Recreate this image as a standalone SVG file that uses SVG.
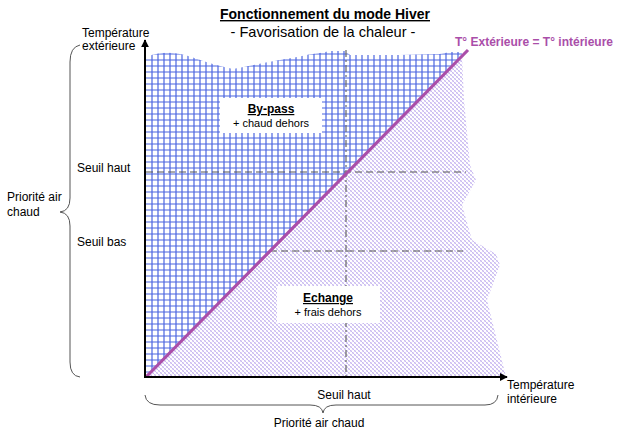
<svg xmlns="http://www.w3.org/2000/svg" width="620" height="434" viewBox="0 0 620 434">
<style>
text{font-family:"Liberation Sans",Arial,sans-serif;fill:#000;}
.lbl{font-size:12px;}
.sm{font-size:11px;}
.b{font-weight:bold;}
.u{text-decoration:underline;}
.dash{stroke:#555;stroke-width:1;fill:none;stroke-dasharray:7,4;}
.dashdot{stroke:#666;stroke-width:1.2;fill:none;stroke-dasharray:7,3,2,3;}
.brace{stroke:#555;stroke-width:1;fill:none;}
.axis{stroke:#000;stroke-width:2;fill:none;}
.gridln{stroke:#4a64e0;stroke-width:1.2;fill:none;}
</style>
<defs>
<clipPath id="gridclip">
<path d="M146,377 L146,57 Q160,52 172,53 Q185,54 200,60 Q218,66 233,69 Q250,66 263,63 Q280,60 297,57 Q310,54 320,53 L330,51 L345,51 L350,55 L400,55 L440,54 L450,52 L462,52 L462,56 Z"/>
</clipPath>
<pattern id="hatch" patternUnits="userSpaceOnUse" x="145" y="377" width="4" height="4">
<rect width="4" height="4" fill="#fff"/>
<path d="M0,0L4,4M-1,3L1,5M3,-1L5,1" stroke="#bcaaee" stroke-width="0.8"/>
<path d="M0,4L4,0M-1,1L1,-1M3,5L5,3" stroke="#d4c8f2" stroke-width="0.7"/>
</pattern>
<marker id="arr" viewBox="0 0 10 10" refX="9" refY="5" markerWidth="4" markerHeight="4" orient="auto" markerUnits="strokeWidth">
<path d="M0,0L10,5L0,10Z" fill="#000"/>
</marker>
</defs>

<g id="regions">
<g id="grid-region" clip-path="url(#gridclip)">
<rect x="140" y="40" width="330" height="340" fill="#fff"/>
<path class="gridln" d="M152,45v332m6,-332v332m6,-332v332m6,-332v332m6,-332v332m6,-332v332m6,-332v332m6,-332v332m6,-332v332m6,-332v332m6,-332v332m6,-332v332m6,-332v332m6,-332v332m6,-332v332m6,-332v332m6,-332v332m6,-332v332m6,-332v332m6,-332v332m6,-332v332m6,-332v332m6,-332v332m6,-332v332m6,-332v332m6,-332v332m6,-332v332m6,-332v332m6,-332v332m6,-332v332m6,-332v332m6,-332v332m6,-332v332m6,-332v332m6,-332v332m6,-332v332m6,-332v332m6,-332v332m6,-332v332m6,-332v332m6,-332v332m6,-332v332m6,-332v332m6,-332v332m6,-332v332m6,-332v332m6,-332v332m6,-332v332m6,-332v332m6,-332v332m6,-332v332m6,-332v332m6,-332v332"/>
<path class="gridln" d="M146,372h318m-318,-6h318m-318,-6h318m-318,-6h318m-318,-6h318m-318,-6h318m-318,-6h318m-318,-6h318m-318,-6h318m-318,-6h318m-318,-6h318m-318,-6h318m-318,-6h318m-318,-6h318m-318,-6h318m-318,-6h318m-318,-6h318m-318,-6h318m-318,-6h318m-318,-6h318m-318,-6h318m-318,-6h318m-318,-6h318m-318,-6h318m-318,-6h318m-318,-6h318m-318,-6h318m-318,-6h318m-318,-6h318m-318,-6h318m-318,-6h318m-318,-6h318m-318,-6h318m-318,-6h318m-318,-6h318m-318,-6h318m-318,-6h318m-318,-6h318m-318,-6h318m-318,-6h318m-318,-6h318m-318,-6h318m-318,-6h318m-318,-6h318m-318,-6h318m-318,-6h318m-318,-6h318m-318,-6h318m-318,-6h318m-318,-6h318m-318,-6h318m-318,-6h318m-318,-6h318m-318,-6h318m-318,-6h318"/>
</g>
<path id="hatch-region" fill="url(#hatch)" d="M146,377 L462,56 L464,100 L470,165 L476,180 L462,205 L472,240 L496,254 L500,265 L487,300 L506,377 Z"/>
</g>

<g id="connectors">
<line class="dash" x1="146" y1="172" x2="466" y2="172"/>
<line class="dash" x1="270" y1="251" x2="463" y2="251"/>
<line class="dashdot" x1="346" y1="50" x2="346" y2="377"/>
<line x1="146" y1="377" x2="468" y2="50" stroke="#aa4ea9" stroke-width="3.2"/>
<line class="axis" x1="145" y1="378" x2="145" y2="40" marker-end="url(#arr)"/>
<line class="axis" x1="144" y1="377" x2="507" y2="377" marker-end="url(#arr)"/>
<path class="brace" d="M80,45 Q70,47 70,62 L70,198 Q70,211 60,212 Q70,213 70,226 L70,362 Q70,376 80,377"/>
<path class="brace" d="M145,395 Q146,405 160,405 L310,405 Q322,405 323,413 Q324,405 336,405 L485,405 Q497,405 498,395"/>
</g>

<g id="title">
<text x="325" y="19" text-anchor="middle" font-size="14" class="b u">Fonctionnement du mode Hiver</text>
<text x="323" y="37" text-anchor="middle" font-size="14.6">- Favorisation de la chaleur -</text>
</g>

<g id="axis-y-label">
<text class="lbl" x="82" y="37">Température</text>
<text class="lbl" x="82" y="50">extérieure</text>
</g>
<g id="axis-x-label">
<text class="lbl" x="507" y="389">Température</text>
<text class="lbl" x="507" y="403">intérieure</text>
</g>

<g id="diag-label">
<text x="455" y="46" font-size="12" class="b" style="fill:#aa4ea9">T° Extérieure = T° intérieure</text>
</g>

<g id="seuil-haut-y"><text class="lbl" x="77" y="172">Seuil haut</text></g>
<g id="seuil-bas-y"><text class="lbl" x="77" y="246">Seuil bas</text></g>
<g id="priorite-y">
<text class="lbl" x="7" y="201">Priorité air</text>
<text class="lbl" x="7" y="216">chaud</text>
</g>
<g id="seuil-haut-x"><text class="lbl" x="344" y="399" text-anchor="middle">Seuil haut</text></g>
<g id="priorite-x"><text class="lbl" x="319" y="427" text-anchor="middle">Priorité air chaud</text></g>

<g id="bypass">
<rect x="220" y="98" width="102" height="35" fill="#fff"/>
<text x="271" y="113" text-anchor="middle" font-size="12" class="b u">By-pass</text>
<text x="271" y="127" text-anchor="middle" class="sm">+ chaud dehors</text>
</g>
<g id="echange">
<rect x="277" y="286" width="103" height="37" fill="#fff"/>
<text x="328" y="302" text-anchor="middle" font-size="12" class="b u">Echange</text>
<text x="328" y="316" text-anchor="middle" class="sm">+ frais dehors</text>
</g>
</svg>
